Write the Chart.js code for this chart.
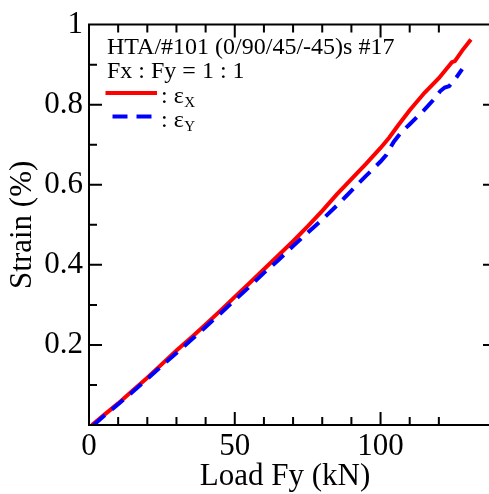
<!DOCTYPE html>
<html>
<head>
<meta charset="utf-8">
<script src="https://cdn.jsdelivr.net/npm/chart.js@4.4.1/dist/chart.umd.min.js"></script>
<style>
  html, body { margin: 0; padding: 0; background: #fff; overflow: hidden; }
  canvas { display: block; }
</style>
</head>
<body>
<canvas id="grafica" width="489" height="494"></canvas>
<script>
const $grafica = document.querySelector("#grafica");

// Carga Fy (kN) y deformación (%) de cada galga
const cargaX = [1, 5, 10, 15, 20, 25, 30, 35, 40, 45, 50, 55, 60, 65, 70, 75, 80, 85, 90, 95,
    100, 103, 106, 110, 115, 120, 123, 124.5, 125.5, 128, 131];
const strainX = [0, 0.024, 0.054, 0.086, 0.118, 0.152, 0.186, 0.218, 0.251, 0.285, 0.320, 0.354,
    0.389, 0.424, 0.459, 0.496, 0.535, 0.576, 0.614, 0.652, 0.692, 0.718, 0.748, 0.786, 0.829,
    0.866, 0.893, 0.906, 0.909, 0.935, 0.963];

const cargaY = [1.6, 5, 10, 15, 20, 25, 30, 35, 40, 45, 50, 55, 60, 65, 70, 75, 80, 85, 88, 92,
    95, 100, 102, 104.5, 107, 110, 115, 118, 120.5, 122, 123.5, 126, 128];
const strainY = [0, 0.022, 0.052, 0.083, 0.115, 0.148, 0.180, 0.212, 0.245, 0.278, 0.312, 0.345,
    0.380, 0.412, 0.447, 0.480, 0.513, 0.548, 0.570, 0.600, 0.622, 0.658, 0.675, 0.707, 0.730,
    0.751, 0.787, 0.811, 0.834, 0.843, 0.846, 0.868, 0.889];

const ticksX = [0, 50, 100];
const ticksY = [0.2, 0.4, 0.6, 0.8, 1];

const titulo = 'HTA/#101 (0/90/45/-45)s #17';
const relacion = 'Fx : Fy = 1 : 1';
const tituloX = 'Load Fy (kN)';
const tituloY = 'Strain (%)';

const fuente = '"Liberation Serif", "Times New Roman", serif';

function aPuntos(xs, ys) {
    return xs.map((x, i) => ({ x: x, y: ys[i] }));
}

const datosX = {
    label: 'εX',
    sub: 'X',
    data: aPuntos(cargaX, strainX),
    borderColor: '#ff0000',
    borderWidth: 4,
    pointRadius: 0,
    fill: false,
    order: 1,
};

const datosY = {
    label: 'εY',
    sub: 'Y',
    data: aPuntos(cargaY, strainY),
    borderColor: '#0000ff',
    borderWidth: 4,
    borderDash: [15, 9],
    pointRadius: 0,
    fill: false,
    order: 0,
};

// Marco, marcas hacia dentro, textos y leyenda.
// El eje derecho cae justo fuera del lienzo: solo asoman las marcas mayores.
const marco = {
    id: 'marco',
    afterDraw(chart) {
        const ctx = chart.ctx;
        const a = chart.chartArea;
        const sx = chart.scales.x;
        const sy = chart.scales.y;
        ctx.save();
        ctx.strokeStyle = '#000';
        ctx.lineWidth = 2;
        ctx.beginPath();
        ctx.moveTo(a.right, a.top);
        ctx.lineTo(a.left, a.top);
        ctx.lineTo(a.left, a.bottom);
        ctx.lineTo(a.right, a.bottom);

        sx.ticks.forEach(t => {
            if (Math.abs(t.value % 10) > 1e-6) return;
            const px = sx.getPixelForValue(t.value);
            const l = ticksX.includes(t.value) ? 13 : 8;
            ctx.moveTo(px, a.bottom); ctx.lineTo(px, a.bottom - l);
            ctx.moveTo(px, a.top); ctx.lineTo(px, a.top + l);
        });
        sy.ticks.forEach(t => {
            const py = sy.getPixelForValue(t.value);
            const mayor = Math.round(t.value * 10) % 2 === 0;
            ctx.moveTo(a.left, py); ctx.lineTo(a.left + (mayor ? 13 : 8), py);
            if (mayor) { ctx.moveTo(a.right, py); ctx.lineTo(a.right - 6, py); }
        });
        ctx.stroke();

        ctx.fillStyle = '#000';
        ctx.textBaseline = 'alphabetic';
        ctx.textAlign = 'center';
        ctx.font = '31px ' + fuente;
        ctx.fillText(tituloX, 285, 485);

        ctx.textAlign = 'left';
        ctx.font = '24px ' + fuente;
        ctx.fillText(titulo, 107, 54);
        ctx.fillText(relacion, 107, 78);

        // leyenda
        const orden = [datosX, datosY];
        orden.forEach((d, i) => {
            const y = 93 + i * 23.5;
            ctx.save();
            ctx.strokeStyle = d.borderColor;
            ctx.lineWidth = 4;
            ctx.setLineDash(d.borderDash || []);
            ctx.beginPath();
            ctx.moveTo(d.borderDash ? 112.5 : 105.5, y);
            ctx.lineTo(157, y);
            ctx.stroke();
            ctx.restore();
            ctx.font = '24px ' + fuente;
            ctx.fillText(': ε', 161, y + 10);
            const w = ctx.measureText(': ε').width;
            ctx.font = '15px ' + fuente;
            ctx.fillText(d.sub, 161 + w + 0.5, y + 14);
        });
        ctx.restore();
    }
};

new Chart($grafica, {
    type: 'line',
    data: {
        datasets: [datosX, datosY],
    },
    plugins: [marco],
    options: {
        responsive: false,
        animation: false,
        layout: { padding: { top: 17, right: 0, left: 0, bottom: 0 } },
        plugins: {
            legend: { display: false },
            tooltip: { enabled: false },
        },
        scales: {
            x: {
                type: 'linear',
                min: 0,
                max: 137.2,
                grid: { display: false, drawTicks: false },
                border: { display: false },
                ticks: {
                    stepSize: 10,
                    autoSkip: false,
                    maxRotation: 0,
                    padding: 3,
                    color: '#000',
                    font: { family: fuente, size: 31 },
                    callback: v => ticksX.includes(v) ? String(v) : '',
                },
                afterFit(scale) {
                    scale.height = 69;
                    scale.paddingRight = 0;
                },
            },
            y: {
                type: 'linear',
                min: 0,
                max: 1,
                grid: { display: false, drawTicks: false },
                border: { display: false },
                title: {
                    display: true,
                    text: tituloY,
                    color: '#000',
                    font: { family: fuente, size: 31, lineHeight: 1 },
                    padding: { top: 7, bottom: 0 },
                },
                ticks: {
                    stepSize: 0.1,
                    autoSkip: false,
                    padding: 6,
                    color: '#000',
                    font: { family: fuente, size: 31 },
                    callback: v => {
                        const r = Math.round(v * 10) / 10;
                        return ticksY.includes(r) ? (r === 1 ? '1' : r.toFixed(1)) : '';
                    },
                },
                afterFit(scale) { scale.width = 89; },
            },
        },
    }
});
</script>
</body>
</html>
